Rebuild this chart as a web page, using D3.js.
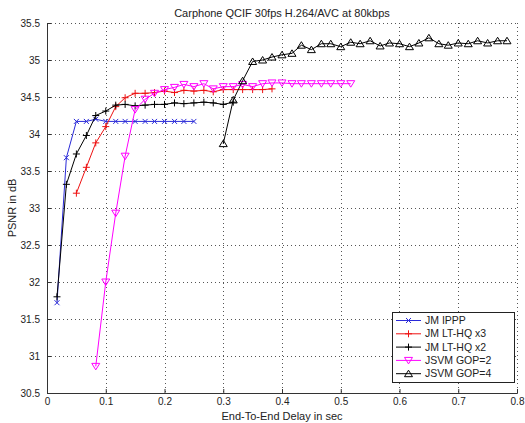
<!DOCTYPE html>
<html>
<head>
<meta charset="utf-8">
<script src="https://cdn.jsdelivr.net/npm/d3@7"></script>
<style>
  body { margin: 0; background: #fff; }
  text { font-family: "Liberation Sans", Arial, sans-serif; fill: #222; }
</style>
</head>
<body>
<svg id="chart" width="525" height="423"></svg>
<script>
// delay grid (sec), one frame at 60 Hz apart
var delays = [0.017, 0.033, 0.050, 0.067, 0.083, 0.100, 0.117, 0.133, 0.150, 0.167,
              0.183, 0.200, 0.217, 0.233, 0.250, 0.267, 0.283, 0.300, 0.317, 0.333,
              0.350, 0.367, 0.383, 0.400, 0.417, 0.433, 0.450, 0.467, 0.483, 0.500,
              0.517, 0.533, 0.550, 0.567, 0.583, 0.600, 0.617, 0.633, 0.650, 0.667,
              0.683, 0.700, 0.717, 0.733, 0.750, 0.767, 0.783];

// PSNR values, each series starts at a given index of delays
var jmIppp = [31.72, 33.68, 34.17, 34.17, 34.20, 34.17, 34.17, 34.17, 34.17, 34.17,
              34.17, 34.17, 34.17, 34.17, 34.17];
var jmLtHq3 = [33.20, 33.55, 33.88, 34.10, 34.37, 34.49, 34.55, 34.55, 34.56, 34.58,
               34.56, 34.59, 34.58, 34.59, 34.57, 34.60, 34.60, 34.60, 34.60, 34.60, 34.61];
var jmLtHq2 = [31.80, 33.32, 33.73, 33.98, 34.25, 34.31, 34.39, 34.40, 34.38, 34.39,
               34.40, 34.40, 34.42, 34.41, 34.42, 34.43, 34.42, 34.40, 34.43];
var jsvmGop2 = [30.86, 32.00, 32.93, 33.70, 34.33, 34.47, 34.55, 34.60, 34.63, 34.67,
                34.64, 34.68, 34.61, 34.64, 34.64, 34.67, 34.64, 34.68, 34.69, 34.69,
                34.68, 34.68, 34.68, 34.68, 34.68, 34.68, 34.68];
var jsvmGop4 = [33.87, 34.46, 34.72, 34.98, 35.00, 35.04, 35.07, 35.09, 35.20, 35.14,
                35.22, 35.22, 35.18, 35.24, 35.22, 35.26, 35.19, 35.23, 35.22, 35.18,
                35.23, 35.30, 35.22, 35.20, 35.23, 35.22, 35.26, 35.23, 35.26, 35.26];

var seriesNames = ["JM IPPP", "JM LT-HQ x3", "JM LT-HQ x2", "JSVM GOP=2", "JSVM GOP=4"];
var seriesStart = [0, 2, 0, 4, 17];
var xTicks = [0, 0.1, 0.2, 0.3, 0.4, 0.5, 0.6, 0.7, 0.8];
var yTicks = [30.5, 31, 31.5, 32, 32.5, 33, 33.5, 34, 34.5, 35, 35.5];

var colors = ["#2a2ad8", "#ee1111", "#000000", "#ff00ff", "#000000"];
var markers = [
  "M-2.5,-2.5L2.5,2.5M-2.5,2.5L2.5,-2.5",      // x
  "M-3.5,0H3.5M0,-3.5V3.5",                   // +
  "M-3.5,0H3.5M0,-3.5V3.5",                   // +
  "M-4,-3L4,-3L0,3.5Z",                        // triangle down
  "M0,-3.5L4,3L-4,3Z"                          // triangle up
];

var allValues = [jmIppp, jmLtHq3, jmLtHq2, jsvmGop2, jsvmGop4];
var series = seriesNames.map(function(name, i) {
  return {
    name: name,
    color: colors[i],
    marker: markers[i],
    points: allValues[i].map(function(v, j) {
      return { x: delays[seriesStart[i] + j], y: v };
    })
  };
});

var margin = {top: 23, right: 8, bottom: 30, left: 47},
    width = 517 - margin.left,
    height = 393 - margin.top;

var svg = d3.select("#chart");
var g = svg.append("g")
    .attr("transform", "translate(" + margin.left + "," + margin.top + ")");

var x = d3.scaleLinear().domain([0, 0.8]).range([0, width]);
var y = d3.scaleLinear().domain([30.5, 35.5]).range([height, 0]);

// grid
g.append("g").selectAll("line")
    .data(yTicks.slice(1))
  .enter().append("line")
    .attr("x1", 0).attr("x2", width)
    .attr("y1", function(d) { return Math.round(y(d)) + 0.5; })
    .attr("y2", function(d) { return Math.round(y(d)) + 0.5; })
    .attr("stroke", "#555")
    .attr("stroke-dasharray", "1,3");

g.append("g").selectAll("line")
    .data(xTicks.slice(1))
  .enter().append("line")
    .attr("y1", 0).attr("y2", height)
    .attr("x1", function(d) { return Math.round(x(d)) + 0.5; })
    .attr("x2", function(d) { return Math.round(x(d)) + 0.5; })
    .attr("stroke", "#555")
    .attr("stroke-dasharray", "1,3");

// axes, ticks pointing inward
var xAxis = g.append("g")
    .attr("transform", "translate(0," + height + ")")
    .call(d3.axisBottom(x).tickValues(xTicks).tickSize(-4).tickPadding(5)
      .tickFormat(d3.format("")));
var yAxis = g.append("g")
    .call(d3.axisLeft(y).tickValues(yTicks).tickSize(-4).tickPadding(7)
      .tickFormat(d3.format("")));

[xAxis, yAxis].forEach(function(a) {
  a.select(".domain").attr("stroke", "#333");
  a.selectAll(".tick line").attr("stroke", "#333");
  a.selectAll("text").attr("font-size", 10).attr("fill", "#333")
    .style("font-family", "'Liberation Sans', Arial, sans-serif");
});
yAxis.select(".domain").attr("d", "M0.5," + height + "V0.5");

// series
var line = d3.line()
    .x(function(d) { return x(d.x); })
    .y(function(d) { return y(d.y); });

series.forEach(function(s) {
  var sg = g.append("g");
  sg.append("path")
      .datum(s.points)
      .attr("d", line)
      .attr("fill", "none")
      .attr("stroke", s.color)
      .attr("stroke-width", 1);
  sg.selectAll("path.mk")
      .data(s.points)
    .enter().append("path")
      .attr("class", "mk")
      .attr("transform", function(d) { return "translate(" + x(d.x) + "," + y(d.y) + ")"; })
      .attr("d", s.marker)
      .attr("fill", "none")
      .attr("stroke", s.color)
      .attr("stroke-width", 1);
});

// title and labels
svg.append("text")
    .attr("x", margin.left + width / 2)
    .attr("y", 17)
    .attr("text-anchor", "middle")
    .attr("font-size", 11)
    .text("Carphone QCIF 30fps H.264/AVC at 80kbps");

svg.append("text")
    .attr("x", margin.left + width / 2)
    .attr("y", 420)
    .attr("text-anchor", "middle")
    .attr("font-size", 11)
    .text("End-To-End Delay in sec");

svg.append("text")
    .attr("transform", "translate(16," + (margin.top + height / 2) + ") rotate(-90)")
    .attr("text-anchor", "middle")
    .attr("font-size", 11)
    .text("PSNR in dB");

// legend
var legend = svg.append("g").attr("transform", "translate(392,312)");
legend.append("rect")
    .attr("x", 0.5).attr("y", 0.5)
    .attr("width", 122).attr("height", 70)
    .attr("fill", "#fff")
    .attr("stroke", "#222");

var item = legend.selectAll("g.item")
    .data(series)
  .enter().append("g")
    .attr("class", "item")
    .attr("transform", function(d, i) { return "translate(0," + (8.5 + i * 13.3) + ")"; });

item.append("line")
    .attr("x1", 4).attr("x2", 29)
    .attr("stroke", function(d) { return d.color; });
item.append("path")
    .attr("transform", "translate(16.5,0)")
    .attr("d", function(d) { return d.marker; })
    .attr("fill", "none")
    .attr("stroke", function(d) { return d.color; });
item.append("text")
    .attr("x", 33)
    .attr("dy", "0.35em")
    .attr("font-size", 10.5)
    .text(function(d) { return d.name; });
</script>
</body>
</html>
